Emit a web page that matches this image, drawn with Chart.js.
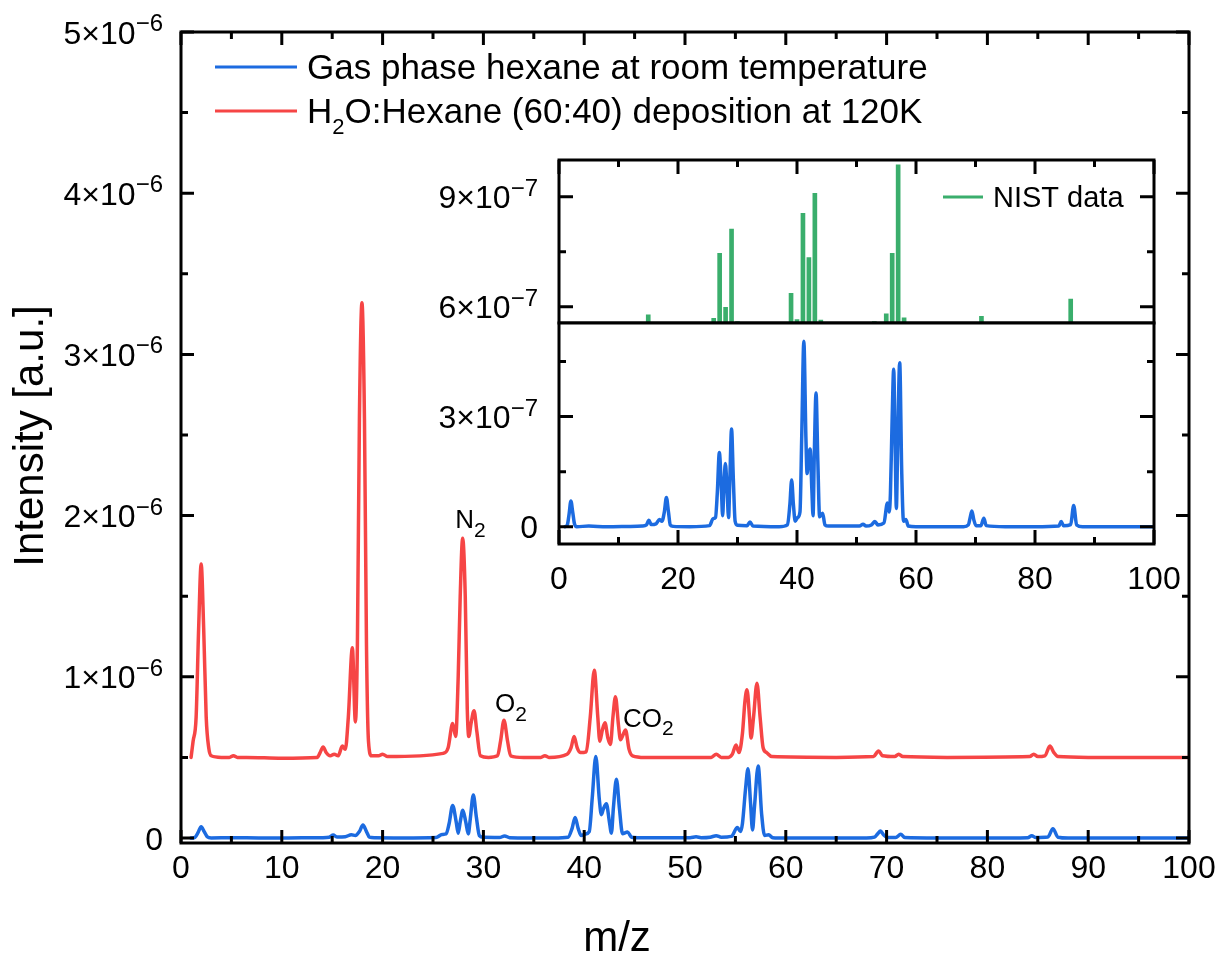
<!DOCTYPE html>
<html>
<head>
<meta charset="utf-8">
<script src="https://cdn.jsdelivr.net/npm/chart.js@4.4.1/dist/chart.umd.min.js"></script>
<style>
  body { margin: 0; background: #fff; }
  #wrap { position: relative; width: 1220px; height: 953px; }
  #wrap canvas { position: absolute; left: 0; top: 0; }
</style>
</head>
<body>
<div id="wrap">
  <canvas id="mainChart" width="1220" height="953"></canvas>
  <canvas id="insetTop" width="1220" height="953"></canvas>
  <canvas id="insetBottom" width="1220" height="953"></canvas>
</div>
<script>
// gas phase hexane, m/z and intensity (x1e-7)
const blueMz = [1.0, 1.4, 1.7, 2.0, 2.3, 2.6, 3.0, 5.0, 8.0, 12.0, 14.0, 14.7, 15.1, 15.5, 16.3, 16.9, 17.3, 17.7, 18.05, 18.4, 18.7, 19.2, 22.0,
  25.3, 25.9, 26.3, 26.6, 26.95, 27.3, 27.5, 27.7, 27.96, 28.25, 28.5, 28.7, 29.0, 29.3, 29.6, 30.0, 31.6, 32.1, 32.6, 37.0,
  38.4, 38.8, 39.1, 39.4, 39.7, 40.1, 40.5, 40.8, 41.15, 41.5, 41.7, 41.9, 42.2, 42.5, 42.7, 42.9, 43.2, 43.5, 43.8, 44.3, 44.7, 45.3,
  50.5, 51.1, 51.6, 52.5, 53.1, 53.6, 54.6, 55.2, 55.5, 55.7, 56.0, 56.25, 56.5, 56.7, 56.9, 57.26, 57.6, 57.9, 58.3, 58.7, 60.0,
  68.0, 68.8, 69.1, 69.4, 69.7, 70.1, 70.9, 71.4, 71.8, 75.0, 80.0, 84.0, 84.4, 84.8, 86.0, 86.5, 87.0, 88.0, 100.0];
const blueI = [0.0, 0.05, 0.35, 0.70, 0.40, 0.08, 0.0, 0.02, 0.0, 0.01, 0.02, 0.05, 0.18, 0.06, 0.08, 0.20, 0.15, 0.40, 0.80, 0.40, 0.05, 0.01, 0.0,
  0.03, 0.22, 0.25, 0.9, 2.02, 1.0, 0.3, 1.0, 1.72, 1.0, 0.25, 1.2, 2.66, 1.3, 0.15, 0.04, 0.03, 0.13, 0.02, 0.0,
  0.05, 0.6, 1.27, 0.6, 0.15, 0.25, 0.4, 2.5, 5.05, 2.4, 1.45, 1.8, 2.12, 1.0, 0.3, 1.9, 3.64, 1.8, 0.27, 0.37, 0.05, 0.02,
  0.02, 0.07, 0.02, 0.05, 0.14, 0.05, 0.1, 0.65, 0.4, 0.9, 3.0, 4.29, 2.2, 0.5, 2.0, 4.47, 1.5, 0.15, 0.2, 0.02, 0.0,
  0.0, 0.05, 0.25, 0.43, 0.2, 0.03, 0.03, 0.23, 0.03, 0.0, 0.0, 0.02, 0.14, 0.03, 0.06, 0.58, 0.05, 0.0, 0.0];

// H2O:hexane deposition at 120K, m/z and intensity (x1e-6)
const redMz = [1.0, 1.2, 1.5, 1.75, 2.0, 2.25, 2.5, 2.75, 3.0, 4.0, 4.8, 5.2, 5.6, 6.5, 10.0, 13.5, 13.8, 14.1, 14.4, 14.8, 15.2, 15.6, 16.0, 16.3, 16.6,
  17.0, 17.3, 17.5, 17.7, 17.95, 18.2, 18.4, 18.6, 18.9, 19.6, 20.0, 20.5, 26.0, 26.5, 26.95, 27.25, 27.5, 27.7, 27.94, 28.2, 28.4, 28.55,
  28.8, 29.07, 29.35, 29.7, 30.5, 31.4, 31.7, 32.04, 32.4, 32.7, 34.0, 35.7, 36.1, 36.5, 38.3, 38.7, 39.0, 39.3, 39.6, 40.2, 40.6, 41.0, 41.35,
  41.55, 41.8, 42.06, 42.35, 42.6, 42.85, 43.1, 43.4, 43.6, 43.85, 44.1, 44.45, 44.8, 46.0, 52.6, 53.1, 53.6, 54.3, 54.7, 55.06, 55.35, 55.7,
  55.95, 56.15, 56.4, 56.55, 56.8, 57.14, 57.45, 57.75, 58.1, 58.6, 65.0, 68.7, 69.2, 69.6, 70.8, 71.2, 71.6, 76.0, 84.2, 84.6,
  85.0, 85.7, 86.2, 86.6, 87.0, 90.0, 100.0];
const redI = [0.50, 0.60, 0.75, 1.30, 1.70, 1.30, 0.75, 0.56, 0.51, 0.50, 0.50, 0.51, 0.50, 0.50, 0.495, 0.50, 0.53, 0.565, 0.53, 0.51, 0.52, 0.51, 0.57, 0.55, 0.75,
  1.18, 0.72, 1.2, 2.6, 3.32, 2.6, 1.2, 0.6, 0.51, 0.51, 0.52, 0.505, 0.525, 0.56, 0.71, 0.63, 1.0, 1.5, 1.86, 1.5, 0.8, 0.63,
  0.72, 0.79, 0.66, 0.51, 0.50, 0.51, 0.60, 0.73, 0.60, 0.51, 0.50, 0.50, 0.51, 0.50, 0.52, 0.56, 0.63, 0.56, 0.53, 0.535, 0.75, 1.04, 0.75,
  0.60, 0.67, 0.715, 0.62, 0.58, 0.75, 0.877, 0.70, 0.61, 0.64, 0.67, 0.55, 0.51, 0.50, 0.50, 0.52, 0.50, 0.50, 0.52, 0.577, 0.53, 0.65,
  0.85, 0.92, 0.75, 0.62, 0.75, 0.96, 0.75, 0.56, 0.53, 0.505, 0.50, 0.505, 0.54, 0.51, 0.505, 0.52, 0.505, 0.50, 0.505, 0.52,
  0.505, 0.51, 0.57, 0.53, 0.505, 0.50, 0.50];

// NIST reference lines (x1e-7 on the inset's upper panel)
const nistMz = [15, 26, 27, 28, 29, 30, 39, 40, 41, 42, 43, 44, 53, 55, 56, 57, 58, 71, 86];
const nistI = [5.78, 5.69, 7.46, 5.99, 8.12, 5.6, 6.37, 5.65, 8.55, 7.34, 9.09, 5.64, 5.6, 5.81, 7.46, 9.87, 5.7, 5.74, 6.21];

// tick labels (mantissas)
const mainXTicks = [0, 10, 20, 30, 40, 50, 60, 70, 80, 90, 100];
const mainYTicks = [0, 1, 2, 3, 4, 5];        // x10^-6
const insetXTicks = [0, 20, 40, 60, 80, 100];
const insetTopYTicks = [6, 9];                 // x10^-7
const insetBotYTicks = [0, 3];                 // x10^-7

const BLUE = '#1c6be0';
const RED = '#f64545';
const GREEN = '#3aae6c';
const FONT = '"Liberation Sans", Arial, sans-serif';

function withMinors(majors) {
  const out = [];
  majors.forEach((v, i) => {
    out.push({ v, major: true });
    if (i < majors.length - 1) out.push({ v: (v + majors[i + 1]) / 2, major: false });
  });
  return out;
}

// text with "_x" subscripts
function drawRich(ctx, str, x, y, size, subRatio, align) {
  const segs = [];
  let buf = '';
  for (let i = 0; i < str.length; i++) {
    if (str[i] === '_' && i + 1 < str.length) {
      if (buf) segs.push({ t: buf });
      segs.push({ t: str[i + 1], sub: true });
      buf = '';
      i++;
    } else buf += str[i];
  }
  if (buf) segs.push({ t: buf });
  const subSize = Math.round(size * subRatio);
  let w = 0;
  segs.forEach(s => {
    ctx.font = (s.sub ? subSize : size) + 'px ' + FONT;
    s.w = ctx.measureText(s.t).width;
    w += s.w;
  });
  let cx = align === 'center' ? x - w / 2 : align === 'right' ? x - w : x;
  ctx.textAlign = 'left';
  ctx.textBaseline = 'alphabetic';
  segs.forEach(s => {
    ctx.font = (s.sub ? subSize : size) + 'px ' + FONT;
    ctx.fillText(s.t, cx, s.sub ? y + size * 0.33 : y);
    cx += s.w;
  });
}

function drawSci(ctx, m, e, xRight, yMid, size) {
  const base = yMid + size * 0.36;
  ctx.textAlign = 'right';
  ctx.textBaseline = 'alphabetic';
  if (m === 0) {
    ctx.font = size + 'px ' + FONT;
    ctx.fillText('0', xRight, base);
    return;
  }
  const expSize = Math.round(size * 0.76);
  ctx.font = expSize + 'px ' + FONT;
  const expTxt = '\u2212' + e;
  const ew = ctx.measureText(expTxt).width;
  ctx.fillText(expTxt, xRight, base - size * 0.39);
  ctx.font = size + 'px ' + FONT;
  ctx.fillText(m + '\u00d710', xRight - ew, base);
}

const axisDeco = {
  id: 'deco',
  beforeDraw(chart, args, o) {
    if (!o.fillWhite) return;
    const a = chart.chartArea;
    chart.ctx.save();
    chart.ctx.fillStyle = '#fff';
    chart.ctx.fillRect(a.left, a.top, a.width, a.height);
    chart.ctx.restore();
  },
  afterDraw(chart, args, o) {
    const { ctx, chartArea: a, scales: { x, y } } = chart;
    ctx.save();
    ctx.strokeStyle = '#000';
    ctx.fillStyle = '#000';
    ctx.lineWidth = 3;
    ctx.beginPath();
    (o.xTicks || []).forEach(t => {
      const px = x.getPixelForValue(t.v), len = t.major ? o.major : o.minor;
      if (o.bottomTicks) { ctx.moveTo(px, a.bottom); ctx.lineTo(px, a.bottom - len); }
      if (o.topTicks) { ctx.moveTo(px, a.top); ctx.lineTo(px, a.top + len); }
    });
    (o.yTicks || []).forEach(t => {
      const py = y.getPixelForValue(t.v * o.yUnit), len = t.major ? o.major : o.minor;
      ctx.moveTo(a.left, py); ctx.lineTo(a.left + len, py);
      ctx.moveTo(a.right, py); ctx.lineTo(a.right - len, py);
    });
    ctx.stroke();
    ctx.strokeRect(a.left, a.top, a.width, a.height);

    (o.xLabels || []).forEach(v => {
      ctx.font = o.fontSize + 'px ' + FONT;
      ctx.textAlign = 'center';
      ctx.textBaseline = 'alphabetic';
      ctx.fillText(String(v), x.getPixelForValue(v), a.bottom + o.xLabelGap);
    });
    (o.yLabels || []).forEach(m => {
      drawSci(ctx, m, o.yExp, a.left - o.yLabelGap, y.getPixelForValue(m * o.yUnit), o.fontSize);
    });

    if (o.xTitle) {
      ctx.font = o.titleSize + 'px ' + FONT;
      ctx.textAlign = 'center';
      ctx.fillText(o.xTitle.text, o.xTitle.x, o.xTitle.y);
    }
    if (o.yTitle) {
      ctx.save();
      ctx.translate(o.yTitle.x, o.yTitle.y);
      ctx.rotate(-Math.PI / 2);
      ctx.font = o.titleSize + 'px ' + FONT;
      ctx.textAlign = 'center';
      ctx.textBaseline = 'middle';
      ctx.fillText(o.yTitle.text, 0, 0);
      ctx.restore();
    }
    (o.notes || []).forEach(n => {
      drawRich(ctx, n.text, x.getPixelForValue(n.x), y.getPixelForValue(n.y), n.size, 0.8, 'left');
    });
    if (o.legend) {
      const L = o.legend;
      chart.data.datasets.forEach((ds, i) => {
        const ly = L.y + i * L.gap;
        ctx.strokeStyle = ds.borderColor || ds.backgroundColor;
        ctx.lineWidth = 3;
        ctx.beginPath();
        ctx.moveTo(L.x, ly);
        ctx.lineTo(L.x + L.lineLen, ly);
        ctx.stroke();
        ctx.fillStyle = '#000';
        drawRich(ctx, ds.label, L.textX, ly + L.size * 0.34, L.size, 0.62, 'left');
      });
    }
    ctx.restore();
  }
};

const toPts = (xs, ys, unit) => xs.map((v, i) => ({ x: v, y: ys[i] * unit }));

const lineStyle = {
  borderWidth: 3.5,
  pointRadius: 0,
  cubicInterpolationMode: 'monotone',
  clip: 0,
  borderJoinStyle: 'round',
  borderCapStyle: 'round'
};

const baseOptions = (padding, ymin, ymax, deco) => ({
  responsive: false,
  animation: false,
  devicePixelRatio: 1,
  layout: { padding },
  scales: {
    x: { type: 'linear', display: false, min: 0, max: 100, offset: false },
    y: { type: 'linear', display: false, min: ymin, max: ymax }
  },
  plugins: { legend: { display: false }, tooltip: { enabled: false }, deco }
});

new Chart(document.getElementById('mainChart'), {
  type: 'line',
  data: {
    datasets: [
      Object.assign({ label: 'Gas phase hexane at room temperature', data: toPts(blueMz, blueI, 1e-7), borderColor: BLUE }, lineStyle),
      Object.assign({ label: 'H_2O:Hexane (60:40) deposition at 120K', data: toPts(redMz, redI, 1e-6), borderColor: RED }, lineStyle)
    ]
  },
  options: baseOptions({ left: 181, top: 32, right: 31, bottom: 110 }, -0.031e-6, 5e-6, {
    xTicks: withMinors(mainXTicks), yTicks: withMinors(mainYTicks), yUnit: 1e-6, yExp: 6,
    major: 13, minor: 7, bottomTicks: true, topTicks: true,
    xLabels: mainXTicks, yLabels: mainYTicks, fontSize: 32, xLabelGap: 35, yLabelGap: 18,
    titleSize: 42,
    xTitle: { text: 'm/z', x: 617, y: 951 },
    yTitle: { text: 'Intensity [a.u.]', x: 31, y: 436 },
    notes: [
      { text: 'N_2', x: 27.2, y: 1.92e-6, size: 26 },
      { text: 'O_2', x: 31.15, y: 0.78e-6, size: 26 },
      { text: 'CO_2', x: 43.85, y: 0.69e-6, size: 26 }
    ],
    legend: { x: 215, y: 67, gap: 44, lineLen: 82, textX: 307, size: 35 }
  }),
  plugins: [axisDeco]
});

new Chart(document.getElementById('insetTop'), {
  type: 'bar',
  data: {
    datasets: [{ label: 'NIST data', data: toPts(nistMz, nistI, 1e-7), backgroundColor: GREEN, borderColor: GREEN, barThickness: 4, clip: 0 }]
  },
  options: baseOptions({ left: 559, top: 160, right: 66, bottom: 630 }, 5.56e-7, 10.0e-7, {
    fillWhite: true,
    xTicks: withMinors(insetXTicks), yTicks: withMinors(insetTopYTicks), yUnit: 1e-7, yExp: 7,
    major: 14, minor: 7, bottomTicks: false, topTicks: true,
    yLabels: insetTopYTicks, fontSize: 32, yLabelGap: 21,
    legend: { x: 943, y: 197, gap: 0, lineLen: 40, textX: 993, size: 29 }
  }),
  plugins: [axisDeco]
});

new Chart(document.getElementById('insetBottom'), {
  type: 'line',
  data: {
    datasets: [Object.assign({ label: 'Gas phase hexane at room temperature', data: toPts(blueMz, blueI, 1e-7), borderColor: BLUE }, lineStyle)]
  },
  options: baseOptions({ left: 559, top: 323, right: 66, bottom: 409 }, -0.47e-7, 5.55e-7, {
    fillWhite: true,
    xTicks: withMinors(insetXTicks), yTicks: withMinors(insetBotYTicks.concat([6])).filter(t => t.v <= 5), yUnit: 1e-7, yExp: 7,
    major: 14, minor: 7, bottomTicks: true, topTicks: false,
    xLabels: insetXTicks, yLabels: insetBotYTicks, fontSize: 32, xLabelGap: 45, yLabelGap: 21
  }),
  plugins: [axisDeco]
});
</script>
</body>
</html>
